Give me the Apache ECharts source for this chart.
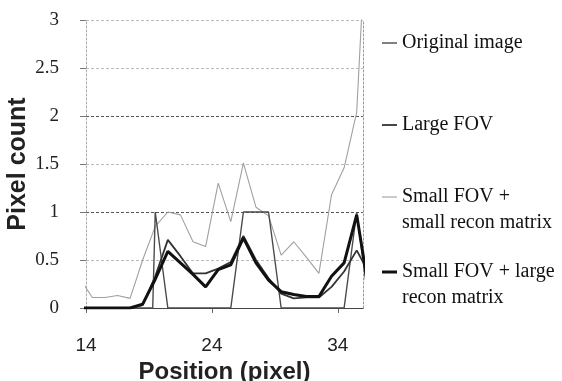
<!DOCTYPE html>
<html><head><meta charset="utf-8">
<script src="https://cdn.jsdelivr.net/npm/echarts@6/dist/echarts.min.js"></script>
<style>html,body{margin:0;padding:0;background:#fff}#c{width:562px;height:381px}</style>
</head><body><div id="c"></div>
<script>
// x positions (pixel) of sampled points; first and last lie just outside the axis range and are clipped
const positions = [13.5,14.5,15.5,16.5,17.5,18.5,19.5,20.5,21.5,22.5,23.5,24.5,25.5,26.5,27.5,28.5,29.5,30.5,31.5,32.5,33.5,34.5,35.5,36.5];
const xTickLabels = [14, 24, 34];
const seriesNames = ['Original image', 'Large FOV', 'Small FOV + small recon matrix', 'Small FOV + large recon matrix'];
const legendLabels = ['Original image', 'Large FOV', 'Small FOV +\nsmall recon matrix', 'Small FOV + large\nrecon matrix'];

// Original image (square profile)
const originalPositions = [13.5, 19.3, 19.5, 20.5, 25.5, 26.5, 27.5, 28.5, 29.5, 34.5, 35.5, 36.5];
const originalImage     = [0,    0,    1,    0,    0,    1,    1,    1,    0,    0,    1,    0];

const largeFOV = [0,0,0,0,0,0.03,0.33,0.71,0.54,0.36,0.36,0.41,0.48,0.75,0.50,0.31,0.15,0.10,0.11,0.11,0.22,0.38,0.60,0.36];
const smallFovSmallMatrix = [0.31,0.11,0.11,0.13,0.10,0.50,0.85,1.00,0.97,0.69,0.64,1.30,0.90,1.51,1.05,0.96,0.55,0.69,0.53,0.36,1.18,1.46,2.04,4.6];
const smallFovLargeMatrix = [0,0,0,0,0,0.04,0.30,0.59,0.47,0.35,0.22,0.40,0.45,0.73,0.47,0.29,0.17,0.14,0.12,0.12,0.33,0.47,0.97,0.15];

const pairs = (xs, ys) => xs.map((x, i) => [x, ys[i]]);

const chart = echarts.init(document.getElementById('c'), null, {renderer: 'canvas'});

const styles = [
  {color: '#4a4a4a', width: 1.4, type: 'solid', z: 3},
  {color: '#333333', width: 1.8, type: 'solid', z: 4},
  {color: '#a0a0a0', width: 1.1, type: 'solid', z: 2},
  {color: '#111111', width: 3, type: 'solid', z: 5}
];
const LH = 26;
function legendAt(i, top, multi) {
  return {
    data: [seriesNames[i]], left: 382, top: top, orient: 'vertical', padding: 0,
    icon: 'rect', itemWidth: 15, itemHeight: Math.max(1, styles[i].width), selectedMode: false,
    formatter: () => (multi ? '\n' : '') + legendLabels[i],
    textStyle: {fontFamily: 'Liberation Serif', fontSize: 20, color: '#111', lineHeight: LH}
  };
}
const dataSets = [
  pairs(originalPositions, originalImage),
  pairs(positions, largeFOV),
  pairs(positions, smallFovSmallMatrix),
  pairs(positions, smallFovLargeMatrix)
];

chart.setOption({
  animation: false,
  backgroundColor: '#fff',
  grid: {left: 86, right: 199, top: 20, bottom: 73, containLabel: false, outerBoundsMode: 'none'},
  legend: [legendAt(0, 43 - LH / 2, false), legendAt(1, 125 - LH / 2, false),
           legendAt(2, 197 - LH * 1.5, true), legendAt(3, 272 - LH * 1.5, true)],
  xAxis: {
    type: 'value', min: 14, max: 36,
    name: 'Position (pixel)', nameLocation: 'middle', nameGap: 43,
    nameTextStyle: {fontFamily: 'Liberation Sans', fontWeight: 'bold', fontSize: 24, color: '#222'},
    axisLine: {lineStyle: {color: '#444', width: 1.2}},
    axisTick: {customValues: xTickLabels, length: 5, lineStyle: {color: '#666'}},
    axisLabel: {customValues: xTickLabels, margin: 28, fontFamily: 'Liberation Sans', fontSize: 19, color: '#222'},
    splitLine: {show: false}
  },
  yAxis: [{
    type: 'value', min: 0, max: 3, interval: 0.5,
    name: 'Pixel count', nameLocation: 'middle', nameGap: 55,
    nameTextStyle: {fontFamily: 'Liberation Sans', fontWeight: 'bold', fontSize: 25, color: '#222'},
    axisLine: {show: true, lineStyle: {color: '#aaa', type: [2, 2]}},
    axisTick: {show: true, length: 6, lineStyle: {color: '#777'}},
    axisLabel: {margin: 27, fontFamily: 'Liberation Serif', fontSize: 19, color: '#222',
      formatter: v => String(v)},
    splitLine: {show: true, lineStyle: {color: ['#555', '#bbb', '#555', '#bbb', '#555', '#bbb', '#bbb'], width: 1, type: [3, 2]}}
  }, {
    type: 'value', min: 0, max: 3, position: 'right',
    axisLine: {show: true, lineStyle: {color: '#999', type: [2, 2]}},
    axisTick: {show: false}, axisLabel: {show: false}, splitLine: {show: false}
  }],
  series: seriesNames.map((n, i) => ({
    name: n, type: 'line', data: dataSets[i], symbol: 'none', clip: true, z: styles[i].z,
    itemStyle: {color: styles[i].color},
    lineStyle: {color: styles[i].color, width: styles[i].width, type: styles[i].type}
  }))
});
</script>
</body></html>
